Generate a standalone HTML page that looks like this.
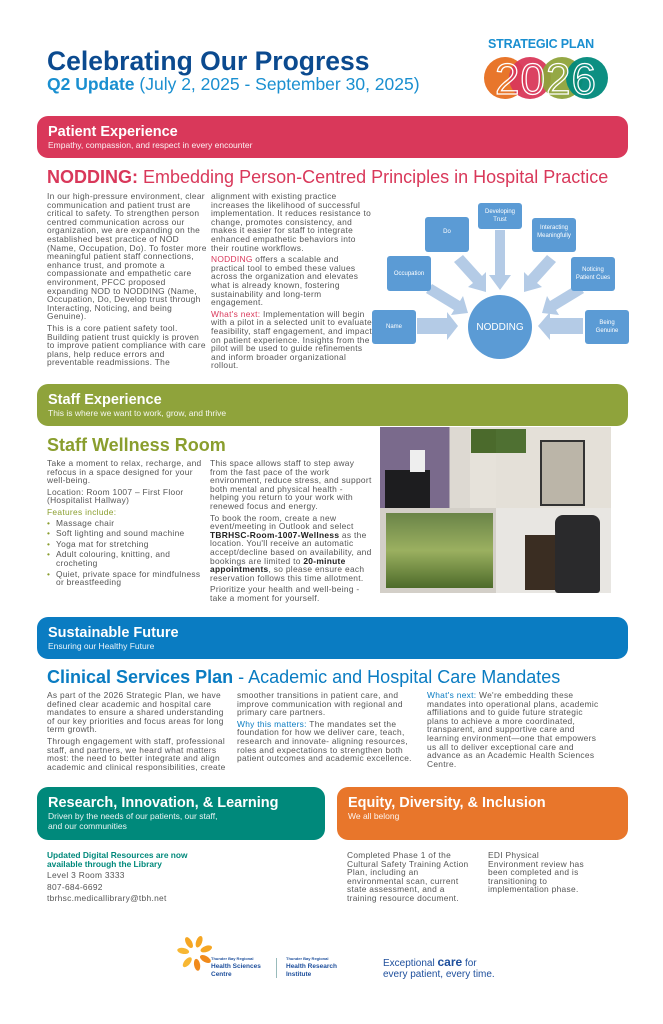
<!DOCTYPE html>
<html><head><meta charset="utf-8"><style>
*{margin:0;padding:0;box-sizing:border-box}
body{width:663px;height:1024px;background:#fff;position:relative;overflow:hidden;font-family:"Liberation Sans",sans-serif;color:#555}
.a{position:absolute}
.band{position:absolute;border-radius:11px;color:#fff;padding:8px 0 0 11px}
.band b{display:block;font-size:14.5px;line-height:16px}
.band span{display:block;font-size:8.5px;line-height:10px;opacity:.92}
.t{font-size:8.4px;line-height:8.6px;color:#555;letter-spacing:0.3px}
.t p{margin-bottom:3px}
h2{position:absolute;font-size:18px;line-height:20px;font-weight:normal;white-space:nowrap}
ul{list-style:none}
ul li{padding-left:9px;position:relative;margin-bottom:2px}
ul li:before{content:"•";position:absolute;left:0;color:#8a9e2e}
.node{position:absolute;background:#5b9bd5;border-radius:3px;color:#fff;font-size:6px;line-height:8px;display:flex;align-items:center;justify-content:center;text-align:center}
</style></head><body>

<div class="a" style="left:47px;top:46px;font-size:26.5px;font-weight:bold;color:#0b4a8f;line-height:30px;white-space:nowrap">Celebrating Our Progress</div>
<div class="a" style="left:47px;top:74px;font-size:17.5px;color:#1a8fd0;line-height:20px;white-space:nowrap"><b>Q2 Update</b> (July 2, 2025 - September 30, 2025)</div>

<div class="a" style="left:488px;top:37px;font-size:12.5px;font-weight:bold;color:#1a8fd0;letter-spacing:-0.2px">STRATEGIC PLAN</div>
<svg class="a" style="left:484px;top:55px" width="126" height="46">
<circle cx="21" cy="23" r="21" fill="#e8762b"/>
<circle cx="46" cy="23" r="21" fill="#d9385a" opacity=".95"/>
<circle cx="78" cy="23" r="21" fill="#8fa33b" opacity=".95"/>
<circle cx="103" cy="23" r="21" fill="#00897b" opacity=".95"/>
<text x="62" y="39" font-family="Liberation Sans" font-size="44" fill="none" stroke="#fff" stroke-width="1.3" text-anchor="middle" letter-spacing="1">2026</text>
</svg>

<div class="band" style="left:37px;top:116px;width:591px;height:42px;background:#d9385a"><b>Patient Experience</b><span>Empathy, compassion, and respect in every encounter</span></div>

<h2 style="left:47px;top:167px;color:#d9385a"><b>NODDING:</b> Embedding Person-Centred Principles in Hospital Practice</h2>

<div class="a t" style="left:47px;top:192px;width:160px">
<p>In our high-pressure environment, clear communication and patient trust are critical to safety. To strengthen person centred communication across our organization, we are expanding on the established best practice of NOD (Name, Occupation, Do). To foster more meaningful patient staff connections, enhance trust, and promote a compassionate and empathetic care environment, PFCC proposed expanding NOD to NODDING (Name, Occupation, Do, Develop trust through Interacting, Noticing, and being Genuine).</p>
<p>This is a core patient safety tool. Building patient trust quickly is proven to improve patient compliance with care plans, help reduce errors and preventable readmissions. The</p></div>
<div class="a t" style="left:211px;top:192px;width:162px">
<p>alignment with existing practice increases the likelihood of successful implementation. It reduces resistance to change, promotes consistency, and makes it easier for staff to integrate enhanced empathetic behaviors into their routine workflows.</p>
<p><span style="color:#d9385a">NODDING</span> offers a scalable and practical tool to embed these values across the organization and elevates what is already known, fostering sustainability and long-term engagement.</p>
<p><span style="color:#d9385a">What's next:</span> Implementation will begin with a pilot in a selected unit to evaluate feasibility, staff engagement, and impact on patient experience. Insights from the pilot will be used to guide refinements and inform broader organizational rollout.</p></div>

<svg class="a" style="left:360px;top:190px" width="303" height="170">
<g fill="#b4cbe6">
<polygon points="57,128 87,128 87,122 98,136 87,150 87,144 57,144"/>
<polygon points="223,128 190,128 190,122 178,136 190,150 190,144 223,144"/>
<polygon points="72,94 100,111 103,106 108,123 91,125 94,120 66,103"/>
<polygon points="103,65 122,86 126,82 126,102 108,97 113,93 94,72"/>
<polygon points="135,40 145,40 145,85 151,85 140,100 129,85 135,85"/>
<polygon points="187,65 168,86 164,82 164,102 182,97 177,93 196,72"/>
<polygon points="218,94 190,111 187,106 182,123 199,125 196,120 224,103"/>
</g>
</svg>
<div class="node" style="left:372px;top:310px;width:44px;height:34px">Name</div>
<div class="node" style="left:387px;top:256px;width:44px;height:35px">Occupation</div>
<div class="node" style="left:425px;top:217px;width:44px;height:35px;align-items:flex-start;padding-top:11px">Do</div>
<div class="node" style="left:478px;top:203px;width:44px;height:26px">Developing<br>Trust</div>
<div class="node" style="left:532px;top:218px;width:44px;height:34px;align-items:flex-start;padding-top:6px">Interacting<br>Meaningfully</div>
<div class="node" style="left:571px;top:257px;width:44px;height:34px">Noticing<br>Patient Cues</div>
<div class="node" style="left:585px;top:310px;width:44px;height:34px">Being<br>Genuine</div>
<div class="a" style="left:468px;top:295px;width:64px;height:64px;border-radius:50%;background:#5b9bd5;color:#fff;font-size:10px;display:flex;align-items:center;justify-content:center">NODDING</div>

<div class="band" style="left:37px;top:384px;width:591px;height:42px;background:#8fa33b"><b>Staff Experience</b><span>This is where we want to work, grow, and thrive</span></div>

<h2 style="left:47px;top:435px;color:#8a9e2e;font-weight:bold">Staff Wellness Room</h2>
<div class="a t" style="left:47px;top:459px;width:160px">
<p>Take a moment to relax, recharge, and refocus in a space designed for your well-being.</p>
<p>Location: Room 1007 – First Floor (Hospitalist Hallway)</p>
<p style="color:#8a9e2e;margin-bottom:2px">Features include:</p>
<ul><li>Massage chair</li><li>Soft lighting and sound machine</li><li>Yoga mat for stretching</li><li>Adult colouring, knitting, and crocheting</li><li>Quiet, private space for mindfulness or breastfeeding</li></ul></div>
<div class="a t" style="left:210px;top:459px;width:162px">
<p>This space allows staff to step away from the fast pace of the work environment, reduce stress, and support both mental and physical health - helping you return to your work with renewed focus and energy.</p>
<p>To book the room, create a new event/meeting in Outlook and select <b style="color:#222">TBRHSC-Room-1007-Wellness</b> as the location. You'll receive an automatic accept/decline based on availability, and bookings are limited to <b style="color:#222">20-minute appointments</b>, so please ensure each reservation follows this time allotment.</p>
<p>Prioritize your health and well-being - take a moment for yourself.</p></div>

<div class="a" style="left:380px;top:427px;width:116px;height:81px;background:linear-gradient(90deg,#7a6a8c 0,#7a6a8c 60%,#ddd9d2 60%)"></div>
<div class="a" style="left:385px;top:470px;width:45px;height:38px;background:#1d1d1f"></div>
<div class="a" style="left:410px;top:450px;width:15px;height:22px;background:#eee"></div>
<div class="a" style="left:470px;top:427px;width:26px;height:81px;background:#e6e2da"></div>
<div class="a" style="left:471px;top:429px;width:25px;height:24px;background:#4b6a2c"></div>
<div class="a" style="left:496px;top:427px;width:115px;height:81px;background:#e4e0d8"></div>
<div class="a" style="left:496px;top:429px;width:30px;height:24px;background:#4f7032"></div>
<div class="a" style="left:540px;top:440px;width:45px;height:66px;border:2px solid #333;background:#bbb5a8"></div>
<div class="a" style="left:380px;top:508px;width:116px;height:85px;background:#d3cfc8"></div>
<div class="a" style="left:386px;top:513px;width:107px;height:75px;background:linear-gradient(180deg,#6a8448,#9bb060 50%,#4d6b2a)"></div>
<div class="a" style="left:496px;top:508px;width:115px;height:85px;background:#e8e6e2"></div>
<div class="a" style="left:525px;top:535px;width:30px;height:55px;background:#3a2d22"></div>
<div class="a" style="left:555px;top:515px;width:45px;height:78px;background:#2a2a2c;border-radius:8px 8px 3px 3px"></div>

<div class="band" style="left:37px;top:617px;width:591px;height:42px;background:#0a7cc2"><b>Sustainable Future</b><span>Ensuring our Healthy Future</span></div>

<h2 style="left:47px;top:667px;color:#0a7cc2"><b>Clinical Services Plan</b> - Academic and Hospital Care Mandates</h2>
<div class="a t" style="left:47px;top:691px;width:182px">
<p>As part of the 2026 Strategic Plan, we have defined clear academic and hospital care mandates to ensure a shared understanding of our key priorities and focus areas for long term growth.</p>
<p>Through engagement with staff, professional staff, and partners, we heard what matters most: the need to better integrate and align academic and clinical responsibilities, create</p></div>
<div class="a t" style="left:237px;top:691px;width:180px">
<p>smoother transitions in patient care, and improve communication with regional and primary care partners.</p>
<p><span style="color:#0a7cc2">Why this matters:</span> The mandates set the foundation for how we deliver care, teach, research and innovate- aligning resources, roles and expectations to strengthen both patient outcomes and academic excellence.</p></div>
<div class="a t" style="left:427px;top:691px;width:172px">
<p><span style="color:#0a7cc2">What's next:</span> We're embedding these mandates into operational plans, academic affiliations and to guide future strategic plans to achieve a more coordinated, transparent, and supportive care and learning environment—one that empowers us all to deliver exceptional care and advance as an Academic Health Sciences Centre.</p></div>

<div class="band" style="left:37px;top:787px;width:288px;height:53px;background:#00897b"><b>Research, Innovation, &amp; Learning</b><span>Driven by the needs of our patients, our staff,<br>and our communities</span></div>
<div class="band" style="left:337px;top:787px;width:291px;height:53px;background:#e8762b"><b>Equity, Diversity, &amp; Inclusion</b><span>We all belong</span></div>

<div class="a t" style="left:47px;top:851px;width:160px">
<p style="color:#00897b;font-weight:bold;letter-spacing:0">Updated Digital Resources are now available through the Library</p>
<p>Level 3 Room 3333</p><p>807-684-6692</p><p>tbrhsc.medicallibrary@tbh.net</p></div>
<div class="a t" style="left:347px;top:851px;width:128px"><p>Completed Phase 1 of the Cultural Safety Training Action Plan, including an environmental scan, current state assessment, and a training resource document.</p></div>
<div class="a t" style="left:488px;top:851px;width:100px"><p>EDI Physical Environment review has been completed and is transitioning to implementation phase.</p></div>

<svg class="a" style="left:177px;top:935px" width="36" height="36">
<g fill="#f5a623">
<ellipse cx="18" cy="6" rx="3" ry="6" transform="rotate(20 18 18)"/>
<ellipse cx="18" cy="6" rx="3" ry="6" transform="rotate(70 18 18)"/>
<ellipse cx="18" cy="6" rx="3" ry="6" transform="rotate(120 18 18)" fill="#f08a1c"/>
<ellipse cx="18" cy="6" rx="3" ry="6" transform="rotate(170 18 18)" fill="#f08a1c"/>
<ellipse cx="18" cy="6" rx="3" ry="6" transform="rotate(220 18 18)" fill="#f7b733"/>
<ellipse cx="18" cy="6" rx="3" ry="6" transform="rotate(280 18 18)" fill="#f7b733"/>
<ellipse cx="18" cy="6" rx="3" ry="6" transform="rotate(330 18 18)"/>
</g></svg>
<div class="a" style="left:211px;top:955px;color:#1e4f9c;font-size:6.5px;line-height:8px;font-weight:bold"><span style="font-size:4px">Thunder Bay Regional</span><br>Health Sciences<br>Centre</div>
<div class="a" style="left:276px;top:958px;width:1px;height:20px;background:#9bb"></div>
<div class="a" style="left:286px;top:955px;color:#1e4f9c;font-size:6.5px;line-height:8px;font-weight:bold"><span style="font-size:4px">Thunder Bay Regional</span><br>Health Research<br>Institute</div>
<div class="a" style="left:383px;top:957px;color:#1e4f9c;font-size:10px;line-height:11px">Exceptional <b style="font-size:12px">care</b> for<br>every patient, every time.</div>

</body></html>
